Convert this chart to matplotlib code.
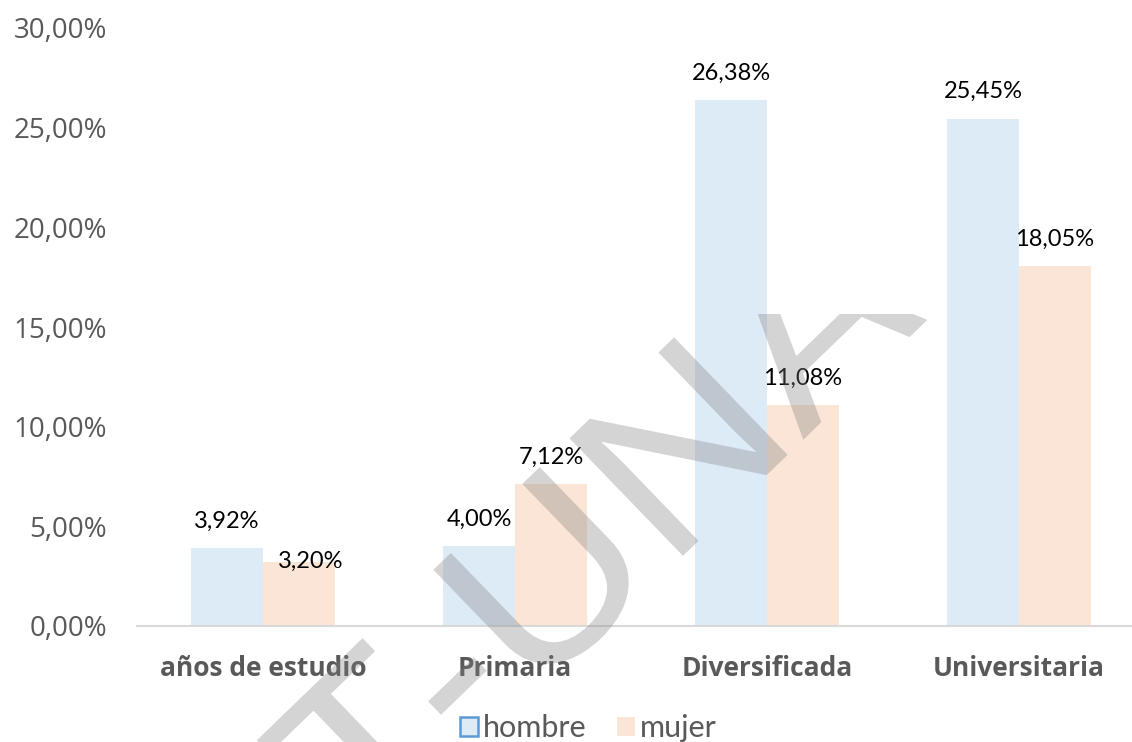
"""Hombre vs mujer por nivel educativo, bar chart with data labels."""

import matplotlib

matplotlib.use("Agg")
import matplotlib.pyplot as plt
import numpy as np
from matplotlib.font_manager import FontProperties
from matplotlib.patches import Patch, PathPatch
from matplotlib.text import TextPath
from matplotlib.ticker import FuncFormatter
from matplotlib.transforms import Affine2D, Bbox, IdentityTransform

categories = ["años de estudio", "Primaria", "Diversificada", "Universitaria"]
hombre = [3.92, 4.00, 26.38, 25.45]
mujer = [3.20, 7.12, 11.08, 18.05]
series_names = ["hombre", "mujer"]
y_ticks = [0, 5, 10, 15, 20, 25, 30]

BLUE = "#DDEBF7"
PEACH = "#FBE5D6"
EDGE_BLUE = "#5B9BD5"
GRAY_TEXT = "#595959"


def pct(v, _pos=None):
    return f"{v:.2f}%".replace(".", ",")


def add_watermark(fig, W, H):
    # stretched diagonal watermark like Word's, cut off above y=314px
    path = TextPath((0, 0), "T-UNA", size=237.5, prop=FontProperties(family="Liberation Sans"))
    tr = Affine2D().scale(1.096, 1.0).rotate_deg(44).translate(366, -120)
    patch = PathPatch(
        tr.transform_path(path),
        transform=IdentityTransform(),
        facecolor="#7f7f7f",
        edgecolor="none",
        alpha=0.33,
        zorder=10,
    )
    patch.set_clip_box(Bbox.from_extents(0, 0, W, H - 314))
    patch.set_clip_on(True)
    fig.add_artist(patch)


def main() -> None:
    fig = plt.figure(figsize=(11.32, 7.42), dpi=100)
    W, H = 1132, 742
    # plot area: x axis line at y=626px, 30% at y=28px
    ax = fig.add_axes([137 / W, (H - 626) / H, 1008 / W, 598 / H])

    x = np.arange(len(categories))
    width = 72 / 252
    ax.bar(x - width / 2, hombre, width, color=BLUE, zorder=2)
    ax.bar(x + width / 2, mujer, width, color=PEACH, zorder=2)

    ax.set_xlim(-0.5, 3.5)
    ax.set_ylim(0, 30)
    ax.set_yticks(y_ticks)
    ax.yaxis.set_major_formatter(FuncFormatter(pct))
    ax.set_xticks(x)
    ax.set_xticklabels(categories)

    for side in ("top", "right", "left"):
        ax.spines[side].set_visible(False)
    ax.spines["bottom"].set_color("#D9D9D9")
    ax.spines["bottom"].set_linewidth(1.5)
    ax.tick_params(axis="both", length=0)
    ax.tick_params(axis="y", pad=21.5, labelsize=20, labelcolor=GRAY_TEXT)
    ax.tick_params(axis="x", pad=21, labelcolor=GRAY_TEXT)
    for lab in ax.get_yticklabels():
        lab.set_family("Open Sans")
    for lab in ax.get_xticklabels():
        lab.set_family("Open Sans")
        lab.set_fontweight("bold")
        lab.set_fontsize(19)

    # data labels (Excel nudged the 3,20% one onto its bar)
    nudges = {(1, 0): (8.6, 0.5)}
    for s, values in enumerate([hombre, mujer]):
        offset = -width / 2 if s == 0 else width / 2
        for i, v in enumerate(values):
            dx, dy = nudges.get((s, i), (0, 19.4))
            ax.annotate(
                pct(v),
                (x[i] + offset, v),
                xytext=(dx, dy),
                textcoords="offset points",
                ha="center",
                va="center",
                fontsize=17,
                family=["Lato", "DejaVu Sans"],
                color="black",
                zorder=3,
            )

    handles = [
        Patch(facecolor=BLUE, edgecolor=EDGE_BLUE, linewidth=1.8),
        Patch(facecolor=PEACH, edgecolor="none"),
    ]
    fig.legend(
        handles,
        series_names,
        loc="center",
        bbox_to_anchor=(588 / W, 1 - 728 / H),
        ncol=2,
        frameon=False,
        handlelength=0.6,
        handleheight=0.6,
        handletextpad=0.15,
        columnspacing=1.0,
        prop={"family": ["Lato", "DejaVu Sans"], "size": 22},
        labelcolor=GRAY_TEXT,
    )

    add_watermark(fig, W, H)

    fig.savefig("out.png", dpi=100)
    plt.close(fig)


if __name__ == "__main__":
    main()
